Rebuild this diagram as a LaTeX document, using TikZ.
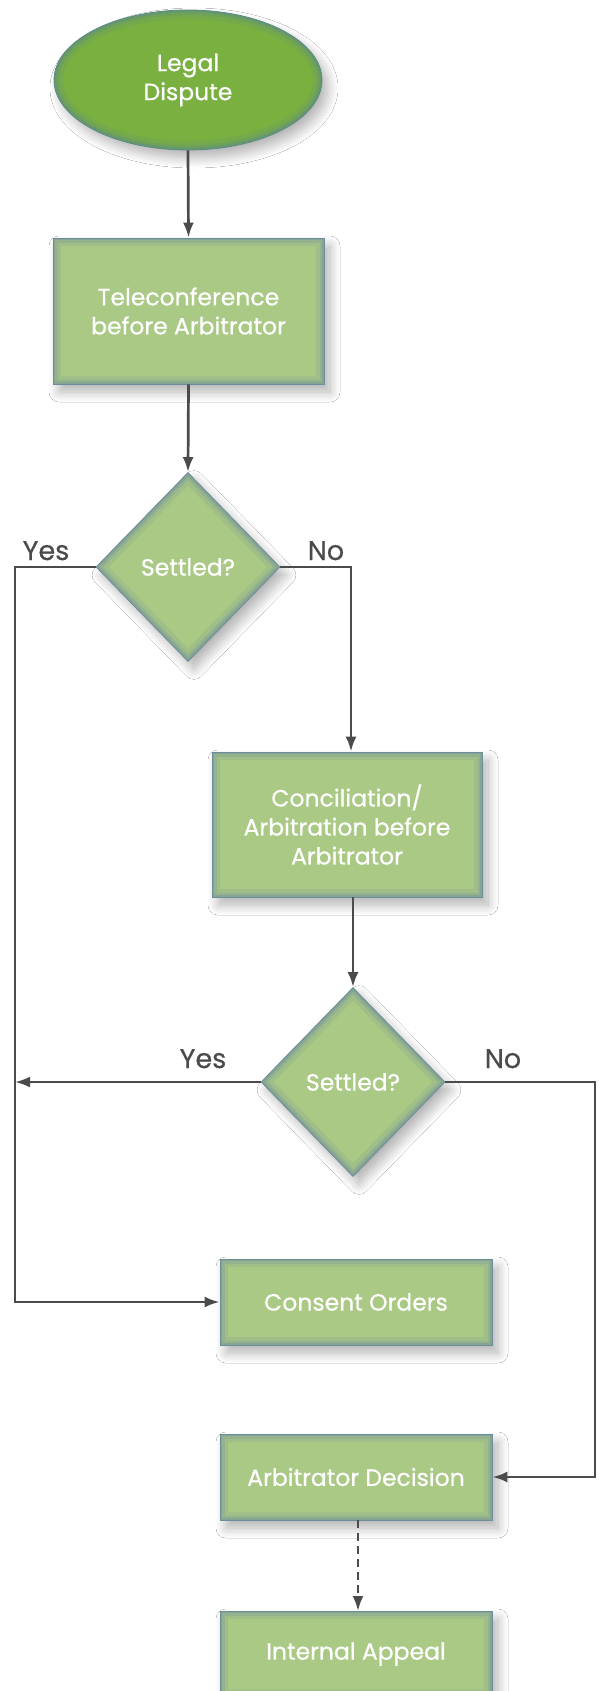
\documentclass[tikz,border=0pt]{standalone}
\usepackage{fontspec}
\setmainfont{Poppins}[FakeBold=0.6]
\usetikzlibrary{shapes.geometric,shadows.blur,arrows.meta}
\definecolor{boxfill}{HTML}{AAC985}
\definecolor{edgec}{HTML}{6D8C9C}
\definecolor{ellfill}{HTML}{7AB040}
\definecolor{elledge}{HTML}{5A8A88}
\definecolor{linec}{HTML}{4B4B4D}
\tikzset{
  base/.style={fill=boxfill, draw=edgec, line width=0.8pt, text=white,
    font=\fontsize{23.5}{29}\selectfont, align=center, inner sep=0pt,
    blur shadow={shadow xshift=6pt, shadow yshift=-8pt, shadow blur radius=10pt, shadow blur steps=12, shadow opacity=30}},
  rectbox/.style={base, rectangle,
    path picture={
      \draw[edgec, line width=16pt, opacity=0.15] (path picture bounding box.south west) rectangle (path picture bounding box.north east);
      \draw[edgec, line width=9pt, opacity=0.25] (path picture bounding box.south west) rectangle (path picture bounding box.north east);
      \draw[edgec, line width=4pt, opacity=0.35] (path picture bounding box.south west) rectangle (path picture bounding box.north east);}},
  decbox/.style={base, diamond, minimum width=184pt, minimum height=189pt,
    path picture={
      \draw[edgec, line width=18pt, opacity=0.15] (path picture bounding box.north) -- (path picture bounding box.east) -- (path picture bounding box.south) -- (path picture bounding box.west) -- cycle;
      \draw[edgec, line width=10pt, opacity=0.25] (path picture bounding box.north) -- (path picture bounding box.east) -- (path picture bounding box.south) -- (path picture bounding box.west) -- cycle;
      \draw[edgec, line width=5pt, opacity=0.35] (path picture bounding box.north) -- (path picture bounding box.east) -- (path picture bounding box.south) -- (path picture bounding box.west) -- cycle;}},
  startell/.style={base, ellipse, fill=ellfill, draw=elledge, minimum width=268pt, minimum height=140pt,
    path picture={
      \draw[elledge, line width=18pt, opacity=0.15] (path picture bounding box.center) ellipse [x radius=134pt, y radius=70pt];
      \draw[elledge, line width=10pt, opacity=0.25] (path picture bounding box.center) ellipse [x radius=134pt, y radius=70pt];
      \draw[elledge, line width=5pt, opacity=0.35] (path picture bounding box.center) ellipse [x radius=134pt, y radius=70pt];}},
  conn/.style={draw=linec, line width=2.7pt, -{Latex[length=15pt,width=11pt]}},
  lbl/.style={text=linec, font=\fontsize{27}{30}\selectfont, anchor=base, inner sep=0pt}
}
\begin{document}
\begin{tikzpicture}[x=1pt,y=-1pt]
\useasboundingbox[fill=white] (0,0) rectangle (598,1691);

\node[startell] (ell) at (188,80) {Legal\\Dispute};
\node[rectbox, minimum width=271pt, minimum height=146pt] (b1) at (188.5,311) {Teleconference\\before Arbitrator};
\node[decbox] (d1) at (188,567) {Settled?};
\node[rectbox, minimum width=270pt, minimum height=145pt] (b2) at (347,824.5) {Conciliation/\\Arbitration before\\Arbitrator};
\node[decbox] (d2) at (353,1082) {Settled?};
\node[rectbox, minimum width=272pt, minimum height=86pt] (b3) at (356,1302) {Consent Orders};
\node[rectbox, minimum width=272pt, minimum height=86pt] (b4) at (356,1477) {Arbitrator Decision};
\node[rectbox, minimum width=272pt, minimum height=86pt] (b5) at (356,1654) {Internal Appeal};

\coordinate (lx1) at (15,567);
\coordinate (lx2) at (15,1082);
\coordinate (rx1) at (351,567);
\coordinate (rx2) at (595,1082);

\draw[conn] (ell.south) -- (b1.north);
\draw[conn] (b1.south) -- (d1.north);
\draw[conn] (d1.west) -- (lx1) |- (b3.west);
\draw[conn] (d1.east) -- (rx1) -- (rx1 |- b2.north);
\draw[conn] (d2.north |- b2.south) -- (d2.north);
\draw[conn] (d2.west) -- (lx2);
\draw[conn] (d2.east) -- (rx2) |- (b4.east);
\draw[conn, dash pattern=on 8pt off 5pt] (358,1520) -- (358,1611);

\node[lbl] (y1) at (46,560) {Yes};
\node[lbl] (n1) at (326,560) {No};
\node[lbl] (y2) at (203,1068) {Yes};
\node[lbl] (n2) at (503,1068) {No};
\end{tikzpicture}
\end{document}
